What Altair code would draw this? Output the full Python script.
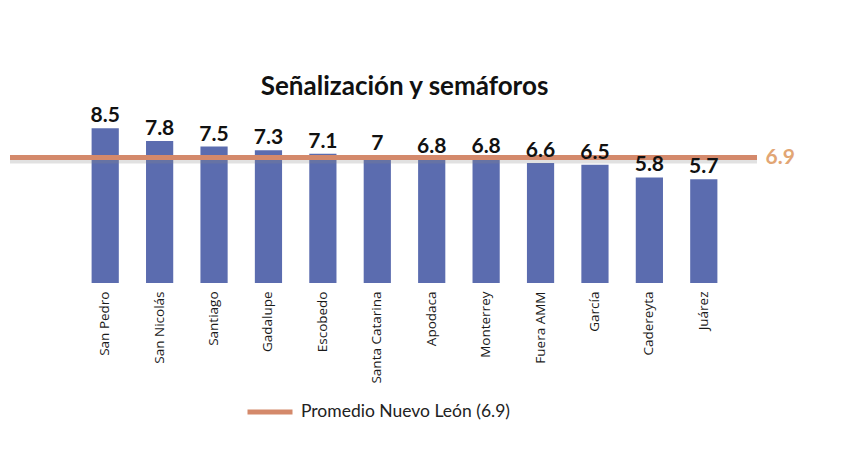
import altair as alt
import pandas as pd

municipios = ["San Pedro", "San Nicolás", "Santiago", "Gadalupe", "Escobedo",
              "Santa Catarina", "Apodaca", "Monterrey", "Fuera AMM", "García",
              "Cadereyta", "Juárez"]
valores = [8.5, 7.8, 7.5, 7.3, 7.1, 7.0, 6.8, 6.8, 6.6, 6.5, 5.8, 5.7]
promedio = [6.9]
serie = ["Promedio Nuevo León (6.9)"]

df = pd.DataFrame({"municipio": municipios, "valor": valores})
dp = pd.DataFrame({"prom": promedio, "serie": serie})

FONT = "Lato"

xscale = alt.Scale(paddingInner=0.5, paddingOuter=0.25, range=[68, 721])
x = alt.X("municipio:N", sort=municipios, title=None, scale=xscale,
          axis=alt.Axis(labelAngle=-90, labelFont="Open Sans", labelFontSize=13.5,
                        labelColor="#1a1a1a", ticks=False, domain=False, grid=False,
                        labelPadding=8, labelAlign="right", labelBaseline="middle"))
yscale = alt.Scale(domain=[0, 10])

bars = alt.Chart(df).mark_bar(color="#5B6CAF").encode(
    x=x,
    y=alt.Y("valor:Q", scale=yscale, axis=None),
)

labels = alt.Chart(df).mark_text(font=FONT, fontWeight="bold", fontSize=21,
                                 color="#111111", baseline="alphabetic", dy=-6).encode(
    x=alt.X("municipio:N", sort=municipios, scale=xscale),
    y=alt.Y("valor:Q", scale=yscale, axis=None),
    text=alt.Text("valor:Q", format="~g"),
)

shadow = alt.Chart(dp).mark_rule(color="#888888", strokeWidth=4, opacity=0.25,
                                 yOffset=4).encode(
    y=alt.Y("prom:Q", scale=yscale, axis=None),
)

rule = alt.Chart(dp).mark_rule(strokeWidth=5).encode(
    y=alt.Y("prom:Q", scale=yscale,
            axis=alt.Axis(orient="right", values=promedio, format=".1f",
                          ticks=False, domain=False, grid=False,
                          labelFont=FONT, labelFontWeight="bold", labelFontSize=21,
                          labelColor="#E2A674", labelPadding=8, title=None)),
    color=alt.Color("serie:N",
                    scale=alt.Scale(range=["#D4896B"]),
                    legend=alt.Legend(title=None, orient="none", legendX=235, legendY=286,
                                      symbolType="stroke", symbolStrokeWidth=5,
                                      symbolSize=2025, labelFont=FONT, labelFontSize=17.5,
                                      labelLimit=400,
                                      labelColor="#222222", labelOffset=6)),
)

chart = alt.layer(bars, shadow, rule, labels).resolve_axis(y="independent").properties(
    width=747,
    height=182,
    padding={"left": 2, "top": 93, "right": 80, "bottom": 182},
    autosize=alt.AutoSizeParams(type="none"),
    background="white",
    title=alt.TitleParams("Señalización y semáforos", font=FONT, fontWeight="bold",
                          fontSize=26, color="#111111", anchor="middle", dx=21,
                          dy=26, offset=6, baseline="alphabetic"),
).configure_view(strokeWidth=0, stroke=None)

chart.save("out.html", embed_options={"renderer": "svg", "actions": False})
